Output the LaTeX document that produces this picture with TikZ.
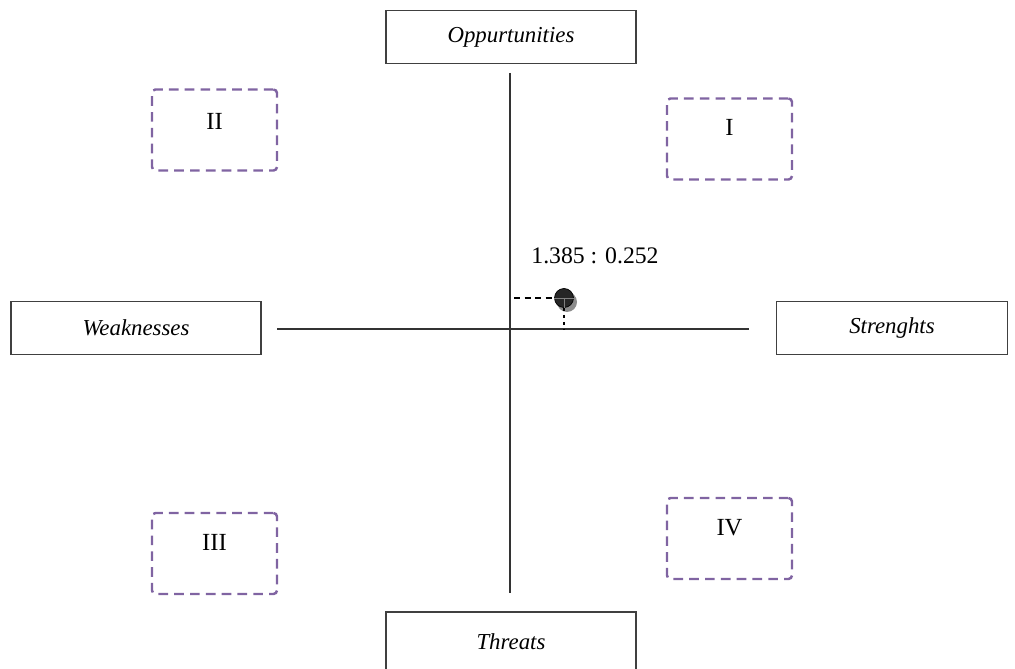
\documentclass[tikz,border=0pt]{standalone}
\usepackage{fontspec}
\setmainfont{Liberation Serif}
\usetikzlibrary{positioning}

\definecolor{quadpurple}{RGB}{128,100,162}

\tikzset{
    sidebox/.style = {draw=black!75, line width=0.7pt, minimum width=5cm,
                      minimum height=1.06cm, font=\fontsize{13}{15}\selectfont\itshape},
    quadbox/.style = {draw=quadpurple, line width=1.4pt, dash pattern=on 5.5pt off 3.5pt,
                      rounded corners=2pt, minimum width=2.5cm, minimum height=1.62cm},
    quadlabel/.style = {inner sep=0pt, font=\fontsize{14}{16}\selectfont},
}

\begin{document}
\begin{tikzpicture}[x=0.02cm, y=-0.02cm]
    \useasboundingbox (0, 0) rectangle (1015, 669);

    % the four sides
    \node [sidebox] (opp) at (511, 37) {Oppurtunities};
    \node [sidebox, minimum height=1.2cm] (thr) at (511, 642) {Threats};
    \node [sidebox] (weak) at (136, 328) {Weaknesses};
    \node [sidebox, minimum width=4.62cm] (str) at (892, 328) {Strenghts};

    % axes
    \coordinate (top) at (510, 73);
    \coordinate (bottom) at (510, 593);
    \coordinate (left) at (277, 329);
    \coordinate (right) at (749, 329);
    \coordinate (origin) at (510, 329);
    \draw [line width=0.8pt, black!80] (top) -- (bottom);
    \draw [line width=0.8pt, black!80] (left) -- (right);

    % quadrants
    \node [quadbox] (q1) at (729.5, 139) {};
    \node [quadbox] (q2) at (214.5, 130) {};
    \node [quadbox] (q3) at (214.5, 553.5) {};
    \node [quadbox] (q4) at (729.5, 538.5) {};
    \node [quadlabel, below=0.44cm of q1.north] {I};
    \node [quadlabel, below=0.50cm of q2.north] {II};
    \node [quadlabel, below=0.44cm of q3.north] {III};
    \node [quadlabel, below=0.44cm of q4.north] {IV};

    % the point
    \fill [black!45] (567, 302) circle (10);
    \node [circle, fill=black!85, draw=black, inner sep=0pt, minimum size=0.38cm] (pt) at (564, 298) {};
    \draw [black!50, line width=0.5pt] (pt.west) -- (pt.east) (pt.center) -- (pt.south);
    \coordinate (ptx) at (514, 298);
    \coordinate (pty) at (564, 329);
    \draw [dash pattern=on 3.5pt off 2.5pt, line width=0.8pt] (ptx) -- (pt.west);
    \draw [dash pattern=on 2pt off 2pt, line width=0.6pt] (pt.south) -- (pty);
    \node [font=\fontsize{13.5}{16}\selectfont] (val) at (595, 256) {1.385 : 0.252};

\end{tikzpicture}
\end{document}
